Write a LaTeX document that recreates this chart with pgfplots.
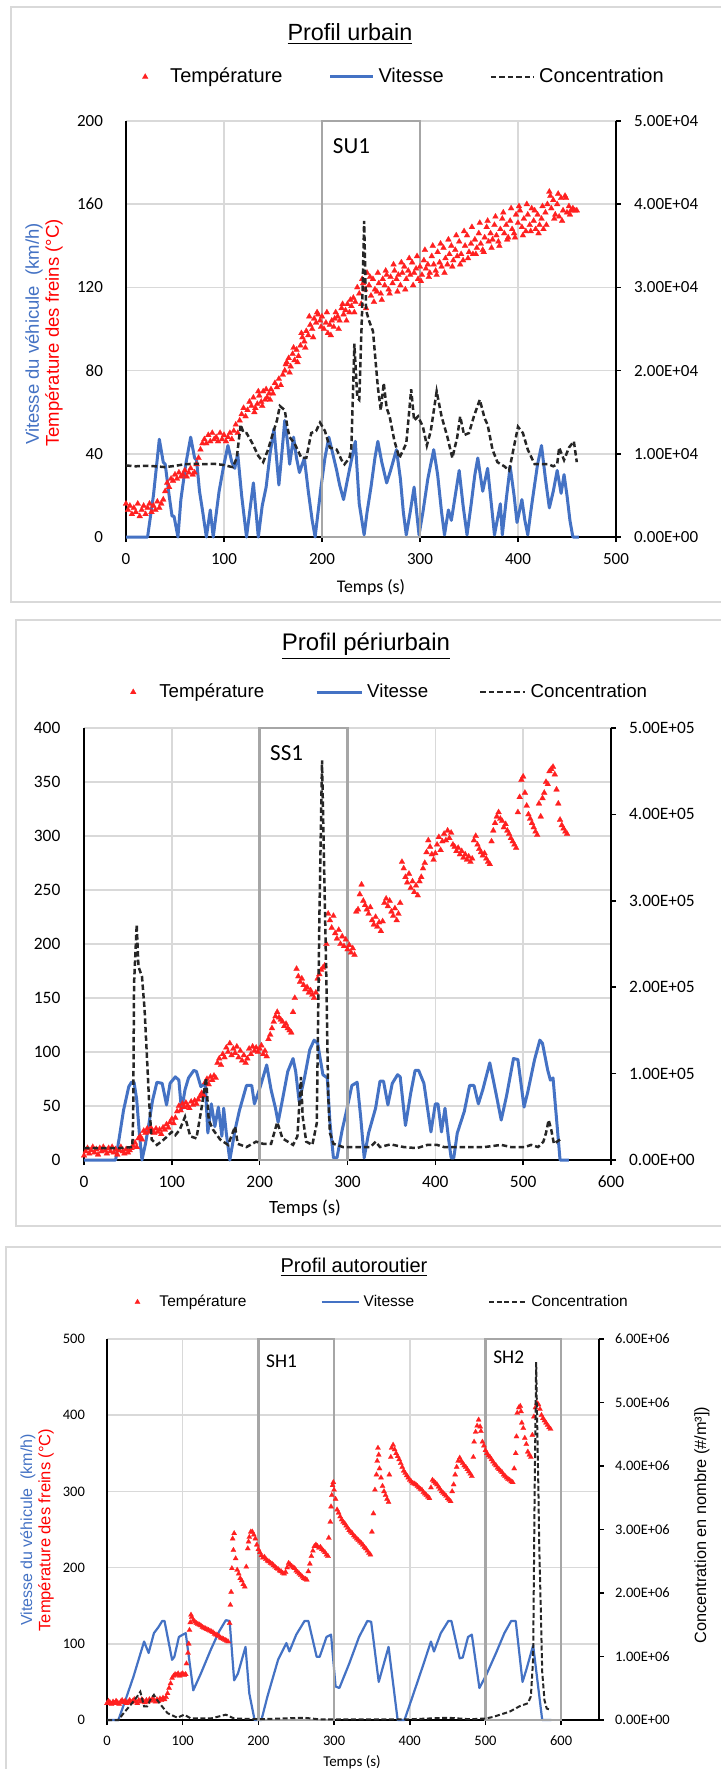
\documentclass[border=0pt]{standalone}
\usepackage{pgfplots}
\pgfplotsset{compat=1.18}
\usepackage{fontspec}
\setmainfont{Liberation Sans}
\newfontfamily\calibri{Carlito}
\newcommand{\fs}[1]{\fontsize{#1}{#1}\selectfont}

\definecolor{vblue}{HTML}{4472C4}
\definecolor{gridgray}{HTML}{D9D9D9}
\definecolor{boxgray}{HTML}{A6A6A6}
\definecolor{framegray}{HTML}{D9D9D9}
\definecolor{concblack}{HTML}{262626}
\definecolor{tred}{HTML}{FF2020}

\pgfplotsset{
  mainax/.style={scale only axis, anchor=south west,
    axis x line*=bottom, axis y line*=left,
    grid=major, major grid style={draw=gridgray, line width=0.75pt},
    axis line style={black, line width=0.75pt},
    tick align=outside, major tick length=2.5pt,
    ytick style={draw=none}, xtick style={black, line width=0.75pt},
    clip=false, /pgf/number format/assume math mode=true,
    legend cell align=left},
  concax/.style={scale only axis, anchor=south west,
    axis x line=none, axis y line*=right, ymin=0,
    axis line style={black, line width=0.75pt},
    ytick style={black, line width=0.75pt},
    tick align=outside, major tick length=2.5pt,
    scaled y ticks=false, clip=false},
  lgline/.style={legend image code/.code={\draw[##1] (0pt,0pt) -- (#1,0pt);}},
  lgmark/.style n args={2}{legend image code/.code={\path[draw=none, fill=none] (0pt,0pt) -- (#1,0pt); \draw[##1, only marks] plot coordinates {(#2,0pt)};}},
  tmark/.style={only marks, mark=triangle*, mark size=1.7pt, tred,
    mark options={draw=tred, fill=tred, line width=0.1pt}},
}

\begin{document}
\begin{tikzpicture}

% panel frames and free text (px grid: 1px = 0.5pt)
\begin{scope}[x=0.5pt, y=-0.5pt]
  \draw[framegray, line width=0.75pt] (11,7) rectangle (780,602);
  \draw[framegray, line width=0.75pt] (16,620) rectangle (780,1226);
  \draw[framegray, line width=0.75pt] (6,1247) rectangle (780,1830);

  \node[font=\fs{11.7}] at (350,34) {\underline{Profil urbain}};
  \node[font=\fs{9.25}, text=vblue, rotate=90] at (34,334) {Vitesse du véhicule\ \ (km/h)};
  \node[font=\fs{9.25}, text=red, rotate=90] at (54,333) {Température des freins (°C)};
  \node[font=\calibri\fs{8.9}] at (371,587) {Temps (s)};

  \node[font=\fs{12}] at (366,646) {\underline{Profil périurbain}};
  \node[font=\calibri\fs{9.35}] at (305,1208) {Temps (s)};

  \node[font=\fs{10}] at (354,1267) {\underline{Profil autoroutier}};
  \node[font=\fs{8}, text=vblue, rotate=90] at (28,1530) {Vitesse du véhicule\ \ (km/h)};
  \node[font=\fs{8.25}, text=red, rotate=90] at (46,1530) {Température des freins (°C)};
  \node[font=\fs{8.15}, rotate=90] at (702,1525) {Concentration en nombre (\#/m³])};
  \node[font=\calibri\fs{7.5}] at (352,1762) {Temps (s)};
\end{scope}

%================ Profil urbain ================
\begin{axis}[mainax, at={(63pt,-268.5pt)}, width=245pt, height=208pt,
  xmin=0, xmax=500, ymin=0, ymax=200,
  xtick={0,100,200,300,400,500}, ytick={0,40,80,120,160,200},
  ticklabel style={font=\calibri\fs{8.5}},
  yticklabel style={xshift=-5.5pt}, xticklabel style={yshift=-2pt},
  legend style={at={(0.55,1.106)}, anchor=center, draw=none, fill=none,
    legend columns=3, font=\fs{10},
    /tikz/every even column/.append style={column sep=21pt}}]
\addplot[tmark, lgmark={21.5pt}{11pt}] coordinates {
(0,16)(2,13)(4,15)(6,11)(8,14)(10,12)(12,16)(14,10)(16,13)(18,15)(20,11)(22,14)(24,16)(26,12)(28,15)(30,13)(32,17)(34,14)(36,16)(38,18)
(40,22)(42,26)(44,24)(46,28)(48,27)(50,30)(52,28)(54,31)(56,29)(58,30)(60,32)(62,29)(64,31)(66,33)(68,30)(70,31)(72,35)(74,38)(76,42)(78,45)
(80,47)(82,45)(84,49)(86,46)(88,50)(90,47)(92,48)(94,46)(96,50)(98,47)(100,49)(102,46)(104,48)(106,50)(108,47)(110,51)(112,54)(114,50)(116,56)(118,59)
(120,62)(122,58)(124,61)(126,65)(128,63)(130,67)(132,62)(134,64)(136,68)(138,65)(140,70)(142,66)(144,67)(146,69)(148,71)(150,69)(152,74)(154,72)(156,76)(158,73)
(160,78)(162,80)(164,84)(166,86)(168,82)(170,88)(172,85)(174,90)(176,87)(178,92)(180,96)(182,94)(184,99)(186,97)(188,102)(190,100)(192,105)(194,103)(196,107)(198,104)
(200,106)(202,100)(204,103)(206,98)(208,102)(210,104)(212,101)(214,108)(216,106)(218,104)(220,110)(222,107)(224,109)(226,112)(228,108)(230,111)(232,115)(234,113)(236,120)(238,117)
(240,112)(242,122)(244,119)(246,127)(248,121)(250,116)(252,124)(254,119)(256,118)(258,122)(260,117)(262,124)(264,121)(266,126)(268,119)(270,125)(272,122)(274,128)(276,124)(278,126)
(280,121)(282,127)(284,130)(286,124)(288,128)(290,126)(292,132)(294,127)(296,129)(298,124)(300,130)(302,126)(304,133)(306,129)(308,131)(310,127)(312,135)(314,131)(316,128)(318,137)
(320,132)(322,130)(324,139)(326,134)(328,131)(330,136)(332,140)(334,133)(336,138)(338,135)(340,142)(342,136)(344,133)(346,140)(348,145)(350,137)(352,141)(354,136)(356,143)(358,139)
(360,146)(362,141)(364,138)(366,144)(368,149)(370,142)(372,146)(374,143)(376,150)(378,145)(380,142)(382,148)(384,153)(386,146)(388,150)(390,144)(392,152)(394,148)(396,146)(398,155)
(400,151)(402,157)(404,149)(406,153)(408,147)(410,155)(412,150)(414,158)(416,152)(418,148)(420,155)(422,150)(424,153)(426,148)(428,156)(430,160)(432,166)(434,158)(436,162)(438,155)
(440,160)(442,154)(444,163)(446,157)(448,164)(450,156)(452,159)(454,157)(456,158)(458,157)(460,157)
(131,60)(135,70)(139,63)(143,71)(147,66)(163,83)(167,79)(171,91)(175,84)(179,98)(183,91)(187,106)(191,96)(195,108)(199,101)(205,108)(209,97)(213,105)(217,100)(221,112)(225,104)(229,114)(233,108)
(241,124)(245,110)(249,125)(253,113)(257,127)(261,114)(265,128)(269,117)(273,131)(277,118)(281,132)(285,119)(289,134)(293,121)(297,135)(301,123)(305,138)(309,125)(313,140)(317,126)
(321,141)(325,127)(329,143)(333,130)(337,145)(341,131)(345,147)(349,134)(353,149)(357,136)(361,151)(365,137)(369,152)(373,139)(377,154)(381,140)(385,156)(389,143)(393,158)(397,144)
(401,159)(405,145)(409,160)(413,147)(417,157)(421,146)(425,159)(429,150)(433,164)(437,153)(441,165)(445,152)(449,163)(453,155)};
\addlegendentry{Température}
\addplot[vblue, line width=1.5pt, line join=round, lgline=21.5pt] coordinates {
(0,0)(22,0)(28,20)(34,47)(38,36)(40,35)(44,20)(47,10)(49,10)(53,0)(56,18)(61,35)(66,48)(70,38)(72,37)(75,22)(78,13)(82,0)(86,13)(89,0)
(95,22)(100,35)(104,44)(108,36)(111,33)(114,40)(118,20)(123,0)(127,15)(130,26)(135,0)(139,15)(143,24)(147,40)(151,52)(156,25)(159,40)(162,56)(165,45)(167,35)
(171,48)(174,38)(177,31)(182,38)(186,22)(190,8)(193,0)(196,12)(199,24)(203,38)(207,48)(211,40)(215,32)(218,25)(222,18)(227,30)(234,46)(238,16)(243,1)(246,12)
(250,24)(254,38)(257,46)(261,36)(266,26)(270,32)(276,42)(280,28)(283,12)(286,1)(290,12)(294,24)(297,10)(299,1)(303,12)(308,28)(314,42)(318,30)(322,12)(325,1)
(329,13)(332,8)(336,20)(340,32)(344,15)(348,1)(352,15)(356,30)(359,38)(364,22)(369,33)(373,15)(376,1)(382,16)(384,1)(388,18)(392,34)(396,20)(399,7)(404,18)
(407,8)(410,1)(413,12)(416,22)(420,35)(424,44)(428,28)(432,14)(436,22)(440,32)(444,21)(447,30)(450,20)(453,8)(456,0)(462,0)};
\addlegendentry{Vitesse}
\addlegendimage{concblack, line width=1.25pt, dash pattern=on 2.75pt off 1.5pt, lgline=21.5pt}
\addlegendentry{Concentration}
\draw[boxgray, line width=1.25pt] (axis cs:200,0) rectangle (axis cs:300,200);
\node[anchor=west, font=\calibri\fs{11.5}] at (axis cs:204,188) {SU1};
\end{axis}
\begin{axis}[concax, at={(63pt,-268.5pt)}, width=245pt, height=208pt,
  xmin=0, xmax=500, ymax=50000,
  ytick={0,10000,20000,30000,40000,50000},
  yticklabels={0.00E+00,1.00E+04,2.00E+04,3.00E+04,4.00E+04,5.00E+04},
  yticklabel style={font=\calibri\fs{8.5}, xshift=3pt}]
\addplot[concblack, line width=1.25pt, dash pattern=on 2.75pt off 1.5pt] coordinates {
(0,8600)(10,8500)(20,8550)(30,8500)(40,8400)(50,8550)(60,8750)(70,8800)(80,8750)(90,8800)(100,8650)(105,8500)(109,8400)(113,9500)(117,13500)(120,12500)(123,12500)(129,11250)(135,9750)(140,9000)
(145,10500)(150,12500)(154,14000)(157,15750)(162,15250)(165,13000)(167,12000)(172,11250)(179,9500)(184,9500)(189,12500)(194,12750)(198,13750)(203,12750)(208,10750)(215,10500)(220,9250)(223,8750)(228,9500)(230,10750)
(233,23250)(236,16750)(238,16500)(241,27500)(243,38000)(245,27250)(248,26000)(252,24750)(257,18000)(260,15250)(263,18500)(266,15500)(269,14500)(274,11500)(279,9500)(286,11250)(291,17750)(294,14000)(298,14500)(303,13250)
(307,11000)(311,12750)(317,17500)(322,14500)(328,12000)(333,9500)(338,12000)(341,14500)(345,12250)(350,12500)(355,14500)(361,16500)(366,14250)(369,13500)(374,10500)(379,9000)(386,8500)(391,8000)(397,11500)(400,13250)
(405,12500)(410,10500)(417,8750)(424,8750)(431,8750)(436,8500)(440,8750)(442,10750)(447,9250)(452,10750)(457,11500)(460,9000)};
\end{axis}

%================ Profil periurbain ================
\begin{axis}[mainax, at={(42pt,-580pt)}, width=263.5pt, height=216pt,
  xmin=0, xmax=600, ymin=0, ymax=400,
  xtick={0,100,200,300,400,500,600}, ytick={0,50,100,150,200,250,300,350,400},
  ticklabel style={font=\calibri\fs{8.7}},
  yticklabel style={xshift=-5.8pt}, xticklabel style={yshift=-2pt},
  legend style={at={(0.563,1.083)}, anchor=center, draw=none, fill=none,
    legend columns=3, font=\fs{9.35},
    /tikz/every even column/.append style={column sep=23.5pt}}]
\addplot[tmark, lgmark={22.5pt}{11.5pt}] coordinates {
(0,4)(2,8)(4,11)(6,6)(8,9)(10,12)(12,7)(14,10)(16,5)(18,11)(20,8)(22,12)(24,9)(26,6)(28,11)(30,8)(32,12)(34,7)(36,10)(38,5)
(40,9)(42,12)(44,8)(46,6)(48,10)(50,7)(52,9)(54,11)(56,13)(58,16)(60,12)(62,20)(64,22)(66,19)(68,27)(70,25)(72,29)(74,26)(76,30)(78,27)
(80,25)(82,29)(84,26)(86,28)(88,24)(90,30)(92,28)(94,33)(96,30)(98,35)(100,38)(102,34)(104,39)(106,45)(108,50)(110,46)(112,52)(114,49)(116,53)(118,50)
(120,48)(122,54)(124,51)(126,55)(128,52)(130,56)(132,59)(134,62)(136,60)(138,72)(140,75)(142,70)(144,77)(146,74)(148,78)(150,76)(152,90)(154,94)(156,88)(158,98)
(160,95)(162,104)(164,100)(166,108)(168,97)(170,103)(172,99)(174,105)(176,95)(178,101)(180,92)(182,97)(184,90)(186,94)(188,103)(190,98)(192,105)(194,101)(196,104)(198,100)
(200,103)(202,106)(204,98)(206,101)(208,96)(210,112)(212,116)(214,122)(216,128)(218,133)(220,137)(222,132)(224,130)(226,128)(228,124)(230,126)(232,122)(234,120)(236,118)(238,137)
(240,150)(242,177)(244,170)(246,165)(248,168)(250,162)(252,158)(254,160)(256,155)(258,157)(260,153)(262,150)(264,155)(266,168)(268,172)(270,176)(272,178)(274,180)(276,200)(278,228)
(280,222)(282,215)(284,226)(286,210)(288,205)(290,213)(292,200)(294,207)(296,198)(298,204)(300,195)(302,199)(304,192)(306,196)(308,190)(310,230)(312,232)(314,246)(316,255)(318,240)
(320,236)(322,232)(324,228)(326,234)(328,222)(330,218)(332,225)(334,216)(336,220)(338,212)(340,221)(342,238)(344,242)(346,235)(348,240)(350,230)(352,226)(354,233)(356,222)(358,228)
(360,238)(362,276)(364,270)(366,262)(368,257)(370,265)(372,252)(374,258)(376,248)(378,254)(380,245)(382,258)(384,262)(386,270)(388,275)(390,285)(392,296)(394,290)(396,283)(398,278)
(400,284)(402,292)(404,299)(406,287)(408,295)(410,302)(412,296)(414,305)(416,298)(418,303)(420,292)(422,290)(424,286)(426,289)(428,283)(430,286)(432,280)(434,283)(436,278)(438,281)
(440,276)(442,279)(444,296)(446,300)(448,292)(450,288)(452,285)(454,282)(456,284)(458,279)(460,276)(462,274)(464,295)(466,305)(468,312)(470,318)(472,322)(474,316)(476,314)(478,308)
(480,311)(482,305)(484,302)(486,298)(488,295)(490,292)(492,289)(494,322)(496,336)(498,352)(500,355)(502,340)(504,328)(506,320)(508,316)(510,312)(512,308)(514,304)(516,301)(518,330)
(520,318)(522,335)(524,340)(526,350)(528,348)(530,360)(532,362)(534,364)(536,357)(538,343)(540,330)(542,315)(544,310)(546,307)(548,304)(550,302)};
\addlegendentry{Température}
\addplot[vblue, line width=1.5pt, line join=round, lgline=22.5pt] coordinates {
(0,0)(36,0)(40,20)(45,46)(51,68)(54,72)(57,72)(60,56)(63,25)(66,0)(70,15)(74,34)(78,55)(83,72)(89,71)(94,51)(98,71)(104,77)(108,74)(111,46)
(115,65)(119,76)(125,83)(128,82)(133,68)(138,71)(141,25)(145,52)(149,31)(153,49)(157,22)(159,48)(162,25)(166,0)(172,28)(177,46)(185,69)(191,69)(194,52)(200,66)
(208,88)(213,65)(218,48)(221,35)(226,56)(232,82)(238,94)(241,82)(245,54)(251,76)(257,102)(262,111)(266,108)(272,79)(277,76)(280,35)(284,2)(288,2)(294,28)(299,46)
(305,69)(311,72)(315,40)(319,2)(324,25)(332,48)(337,73)(341,73)(346,51)(351,71)(357,79)(360,77)(366,32)(372,62)(377,83)(381,83)(387,71)(395,26)(400,52)(403,52)
(407,26)(411,48)(415,20)(418,2)(421,2)(425,25)(433,45)(439,69)(444,69)(449,52)(454,65)(462,90)(469,62)(475,37)(481,59)(489,94)(494,93)(501,49)(505,62)(513,93)
(519,111)(522,108)(528,83)(531,74)(534,76)(542,0)(552,0)};
\addlegendentry{Vitesse}
\addlegendimage{concblack, line width=1.25pt, dash pattern=on 2.75pt off 1.5pt, lgline=22.5pt}
\addlegendentry{Concentration}
\draw[boxgray, line width=1.25pt] (axis cs:200,0) rectangle (axis cs:300,400);
\node[anchor=west, font=\calibri\fs{11.5}] at (axis cs:204,377) {SS1};
\end{axis}
\begin{axis}[concax, at={(42pt,-580pt)}, width=263.5pt, height=216pt,
  xmin=0, xmax=600, ymax=500000,
  ytick={0,100000,200000,300000,400000,500000},
  yticklabels={0.00E+00,1.00E+05,2.00E+05,3.00E+05,4.00E+05,5.00E+05},
  yticklabel style={font=\calibri\fs{8.7}, xshift=3pt}]
\addplot[concblack, line width=1.25pt, dash pattern=on 2.75pt off 1.5pt] coordinates {
(0,13750)(20,13750)(40,13750)(55,15000)(56,50000)(57,205000)(60,272500)(62,223750)(66,212500)(69,173750)(72,112500)(74,70000)(77,23750)(83,17500)(91,23750)(100,32500)(104,28750)(109,35000)(115,50000)(121,27500)
(128,25000)(134,61250)(139,95000)(142,46250)(147,35000)(155,23750)(164,17500)(172,38750)(175,18750)(185,15000)(196,21250)(204,18750)(213,18750)(220,43750)(226,25000)(238,17500)(243,27500)(247,96250)(249,50000)(253,21250)
(260,17500)(265,42500)(268,281250)(271,462500)(273,358750)(276,205000)(278,75000)(280,31250)(284,18750)(295,15000)(311,15000)(326,15000)(332,21250)(337,15000)(349,18125)(364,15000)(379,13750)(391,17500)(402,17500)(410,15000)
(433,15000)(456,15000)(475,17500)(486,15000)(502,15000)(509,17500)(517,15000)(523,21250)(526,31250)(529,46250)(532,35000)(535,18750)(542,23750)};
\end{axis}

%================ Profil autoroutier ================
\begin{axis}[mainax, at={(53.5pt,-860pt)}, width=246pt, height=190.5pt,
  xmin=0, xmax=650, ymin=0, ymax=500,
  xtick={0,100,200,300,400,500,600}, ytick={0,100,200,300,400,500},
  ticklabel style={font=\calibri\fs{7.25}},
  yticklabel style={xshift=-5pt}, xticklabel style={yshift=-2pt},
  legend style={at={(0.545,1.097)}, anchor=center, draw=none, fill=none,
    legend columns=3, font=\fs{7.75},
    /tikz/every even column/.append style={column sep=35pt}}]
\addplot[tmark, mark size=1.5pt, lgmark={18.5pt}{9.5pt}] coordinates {
(0,22)(2,25)(4,23)(6,21)(8,24)(10,22)(12,25)(14,23)(16,21)(18,24)(20,26)(22,23)(24,25)(26,22)(28,24)(30,26)(32,23)(34,25)(36,27)(38,24)
(40,22)(42,26)(44,24)(46,27)(48,25)(50,23)(52,26)(54,24)(56,27)(58,25)(60,28)(62,26)(64,24)(66,27)(68,25)(70,28)(72,26)(74,29)(76,27)(78,30)
(80,35)(82,42)(84,48)(86,55)(88,58)(90,60)(92,59)(94,61)(96,58)(98,60)(100,61)(102,59)(104,60)(105,74)(107,88)(108,100)(109,118)(110,128)(111,138)(112,135)
(114,131)(116,129)(118,127)(120,126)(122,125)(124,124)(126,122)(128,121)(130,120)(132,119)(134,118)(136,117)(138,116)(140,115)(142,113)(144,112)(146,111)(148,110)(150,108)(152,107)
(154,106)(156,105)(158,104)(160,103)(162,127)(163,151)(164,168)(165,199)(166,238)(167,223)(168,245)(170,212)(172,197)(174,192)(176,186)(178,183)(180,178)(182,175)(184,201)(186,225)
(187,234)(188,240)(190,247)(192,247)(194,243)(196,238)(198,230)(200,224)(202,220)(204,216)(206,213)(208,214)(210,211)(212,209)(214,208)(216,206)(218,205)(220,203)(222,201)(224,199)
(226,198)(228,196)(230,195)(232,193)(234,192)(236,194)(238,200)(240,206)(242,204)(244,202)(246,200)(248,199)(250,196)(252,194)(254,192)(256,190)(258,188)(260,186)(262,185)(264,184)
(266,195)(268,205)(270,215)(272,222)(274,228)(276,230)(278,228)(280,226)(282,227)(284,224)(286,222)(288,220)(290,217)(292,215)(293,239)(295,260)(296,280)(297,295)(298,308)(299,312)
(300,302)(302,290)(304,276)(306,272)(308,267)(310,263)(312,260)(314,258)(316,255)(318,252)(320,249)(322,247)(324,245)(326,242)(328,240)(330,238)(332,236)(334,234)(336,232)(338,230)
(340,227)(342,225)(344,222)(346,219)(348,217)(350,247)(352,271)(354,302)(356,322)(357,340)(358,357)(359,348)(360,330)(362,318)(364,307)(366,300)(368,295)(370,290)(372,286)(373,322)
(375,345)(376,357)(378,361)(380,355)(382,350)(384,346)(386,342)(388,337)(390,332)(392,327)(394,324)(396,321)(398,318)(400,315)(402,313)(404,311)(406,310)(408,309)(410,307)(412,305)
(414,303)(416,302)(418,299)(420,297)(422,295)(424,293)(426,291)(428,305)(430,315)(432,313)(434,311)(436,309)(438,306)(440,303)(442,300)(444,298)(446,296)(448,294)(450,291)(452,289)
(454,287)(456,300)(458,309)(460,322)(462,332)(464,340)(466,344)(468,340)(470,337)(472,334)(474,332)(476,329)(478,326)(480,323)(482,320)(484,345)(485,365)(487,378)(489,386)(491,394)
(493,385)(494,379)(496,365)(498,360)(500,354)(502,350)(504,347)(506,345)(508,342)(510,339)(512,336)(514,334)(516,331)(518,329)(520,327)(522,325)(524,322)(526,320)(528,318)(530,316)
(532,315)(534,313)(536,312)(538,330)(540,350)(541,372)(542,403)(544,410)(546,412)(547,405)(548,390)(550,383)(552,370)(554,362)(556,352)(558,348)(560,345)(562,374)(564,398)(566,410)
(568,416)(570,414)(572,408)(574,400)(576,396)(578,393)(580,390)(582,387)(584,384)(586,382)};
\addlegendentry{Température}
\addplot[vblue, line width=1.1pt, line join=round, lgline=18.5pt] coordinates {
(0,0)(15,0)(25,28)(35,57)(42,80)(49,103)(55,88)(62,114)(68,122)(73,130)(76,130)(86,79)(89,83)(95,109)(100,112)(104,114)(114,39)(124,61)(137,92)(148,116)
(157,131)(162,130)(168,52)(173,61)(183,96)(188,35)(195,0)(204,0)(212,31)(226,79)(237,101)(241,90)(250,112)(261,130)(266,130)(277,83)(281,83)(290,109)(296,112)(302,44)
(307,42)(320,74)(333,109)(344,130)(349,129)(359,50)(372,96)(384,0)(393,0)(402,26)(417,70)(428,103)(432,90)(441,114)(451,130)(455,130)(466,81)(470,82)(477,109)(482,112)
(492,42)(501,59)(514,88)(525,114)(534,130)(540,130)(549,50)(554,66)(563,98)(575,0)(587,0)};
\addlegendentry{Vitesse}
\addlegendimage{concblack, line width=1pt, dash pattern=on 2.5pt off 1.3pt, lgline=18.5pt}
\addlegendentry{Concentration}
\draw[boxgray, line width=1.25pt] (axis cs:200,0) rectangle (axis cs:300,500);
\draw[boxgray, line width=1.25pt] (axis cs:500,0) rectangle (axis cs:600,500);
\node[anchor=west, font=\calibri\fs{9.7}] at (axis cs:201,471) {SH1};
\node[anchor=west, font=\calibri\fs{9.7}] at (axis cs:501,476) {SH2};
\end{axis}
\begin{axis}[concax, at={(53.5pt,-860pt)}, width=246pt, height=190.5pt,
  xmin=0, xmax=650, ymax=6000000,
  ytick={0,1000000,2000000,3000000,4000000,5000000,6000000},
  yticklabels={0.00E+00,1.00E+06,2.00E+06,3.00E+06,4.00E+06,5.00E+06,6.00E+06},
  yticklabel style={font=\calibri\fs{7.25}, xshift=2pt}]
\addplot[concblack, line width=1pt, dash pattern=on 2.5pt off 1.3pt] coordinates {
(0,0)(15,0)(22,108000)(33,264000)(40,372000)(44,444000)(49,216000)(53,216000)(58,336000)(62,396000)(65,336000)(71,240000)(80,108000)(93,36000)(102,84000)(111,24000)(137,24000)(157,84000)(168,24000)(200,12000)
(260,36000)(280,12000)(350,12000)(400,12000)(450,36000)(480,12000)(500,24000)(510,48000)(532,132000)(545,216000)(556,264000)(560,372000)(563,960000)(565,3600000)(567,5640000)(568,4896000)(570,3600000)(571,2772000)(573,1800000)(575,756000)
(578,312000)(581,180000)(587,156000)};
\end{axis}

\pgfresetboundingbox
\useasboundingbox (0,0) rectangle (360pt,-884.5pt);
\end{tikzpicture}
\end{document}
